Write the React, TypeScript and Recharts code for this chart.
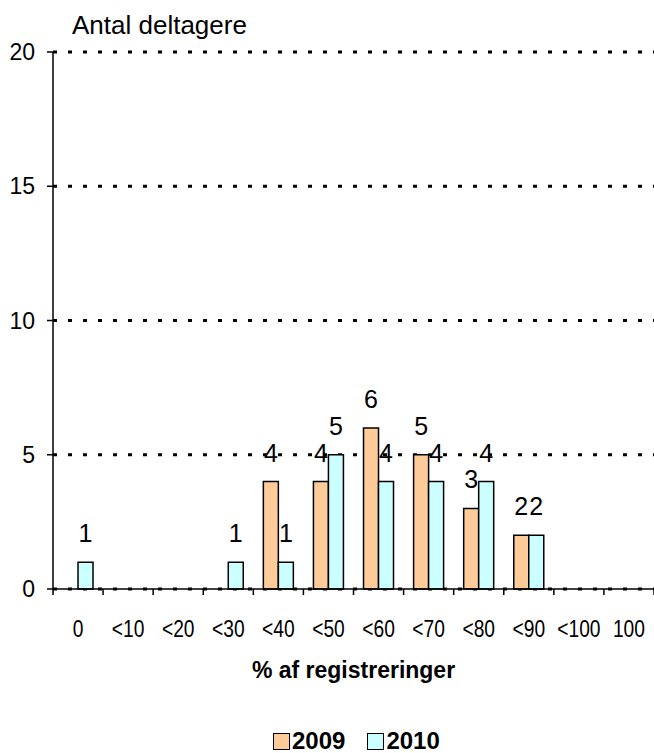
import {
  BarChart,
  Bar,
  XAxis,
  YAxis,
  CartesianGrid,
  LabelList,
  Legend,
} from 'recharts';

const categories = ['0', '<10', '<20', '<30', '<40', '<50', '<60', '<70', '<80', '<90', '<100', '100'];
const values2009 = [0, 0, 0, 0, 4, 4, 6, 5, 3, 2, 0, 0];
const values2010 = [1, 0, 0, 1, 1, 5, 4, 4, 4, 2, 0, 0];
const yTicks = [0, 5, 10, 15, 20];

const data = categories.map((cat, i) => ({
  cat,
  y2009: values2009[i],
  y2010: values2010[i],
}));

const SANS = "'Liberation Sans', Arial, sans-serif";
const TICK_GAP = 31;

interface XTickProps {
  x?: number;
  y?: number;
  payload?: { value: string; offset?: number };
  index?: number;
  visibleTicksCount?: number;
}

// category labels sit in the middle, tick marks on the band edges
function XTick({ x = 0, y = 0, payload, index = 0, visibleTicksCount = 0 }: XTickProps) {
  const half = payload?.offset || 25;
  const axisY = y - TICK_GAP;
  const isLast = index === visibleTicksCount - 1;
  return (
    <g>
      <line x1={x - half} x2={x - half} y1={axisY} y2={axisY + 6} stroke="#000" strokeWidth={1.5} />
      {isLast && (
        <line x1={x + half} x2={x + half} y1={axisY} y2={axisY + 6} stroke="#000" strokeWidth={1.5} />
      )}
      {/* no narrow font installed, so squeeze the regular one */}
      <text
        transform={`translate(${x},${y}) scale(0.8,1)`}
        dy="0.71em"
        textAnchor="middle"
        fontSize={24}
        fontFamily={SANS}
        fill="#000"
      >
        {payload?.value}
      </text>
    </g>
  );
}

function LegendContent({ payload }: { payload?: Array<{ value: string; color?: string }> }) {
  return (
    <div style={{ display: 'flex', alignItems: 'center', gap: 22 }}>
      {(payload || []).map((entry) => (
        <div key={entry.value} style={{ display: 'flex', alignItems: 'center', gap: 2 }}>
          <span
            style={{
              display: 'inline-block',
              width: 15,
              height: 15,
              background: entry.color,
              border: '1.5px solid #000',
            }}
          />
          <span style={{ fontFamily: SANS, fontWeight: 'bold', fontSize: 24, color: '#000', lineHeight: '20px' }}>
            {entry.value}
          </span>
        </div>
      ))}
    </div>
  );
}

export default function App() {
  const hideZero = (v: unknown) => (v === 0 ? '' : String(v));

  return (
    <div style={{ position: 'absolute', left: 0, top: 0, width: 654, height: 753, background: '#fff' }}>
      <div
        style={{
          position: 'absolute',
          left: 72,
          top: 10,
          fontFamily: SANS,
          fontSize: 26,
          color: '#000',
          lineHeight: '30px',
          whiteSpace: 'nowrap',
        }}
      >
        Antal deltagere
      </div>
      <BarChart
        width={654}
        height={753}
        data={data}
        margin={{ top: 52, right: 0, left: 0, bottom: 0 }}
        barCategoryGap="20%"
        barGap={0}
      >
        <CartesianGrid vertical={false} stroke="#000" strokeDasharray="4 11" strokeWidth={3} />
        <XAxis
          dataKey="cat"
          height={164}
          tickLine={false}
          tickSize={0}
          tickMargin={TICK_GAP}
          interval={0}
          axisLine={{ stroke: '#000', strokeWidth: 1.5 }}
          tick={<XTick />}
          label={{
            value: '% af registreringer',
            position: 'insideTop',
            offset: 73,
            fill: '#000',
            fontSize: 23,
            fontWeight: 'bold',
            fontFamily: SANS,
          }}
        />
        <YAxis
          width={53}
          domain={[0, 20]}
          ticks={yTicks}
          tickSize={6}
          tickMargin={12}
          axisLine={{ stroke: '#000', strokeWidth: 1.5 }}
          tickLine={{ stroke: '#000', strokeWidth: 1.5 }}
          tick={{ fill: '#000', fontSize: 23, fontFamily: SANS }}
        />
        <Legend
          layout="horizontal"
          verticalAlign="middle"
          wrapperStyle={{ top: 731, left: 273, width: 260 }}
          content={<LegendContent />}
        />
        <Bar dataKey="y2009" name="2009" fill="#FFCC99" stroke="#000" strokeWidth={1.5} isAnimationActive={false}>
          <LabelList
            dataKey="y2009"
            position="top"
            offset={20}
            formatter={hideZero}
            fill="#000"
            fontSize={25}
            fontFamily={SANS}
          />
        </Bar>
        <Bar dataKey="y2010" name="2010" fill="#CCFFFF" stroke="#000" strokeWidth={1.5} isAnimationActive={false}>
          <LabelList
            dataKey="y2010"
            position="top"
            offset={20}
            formatter={hideZero}
            fill="#000"
            fontSize={25}
            fontFamily={SANS}
          />
        </Bar>
      </BarChart>
    </div>
  );
}
